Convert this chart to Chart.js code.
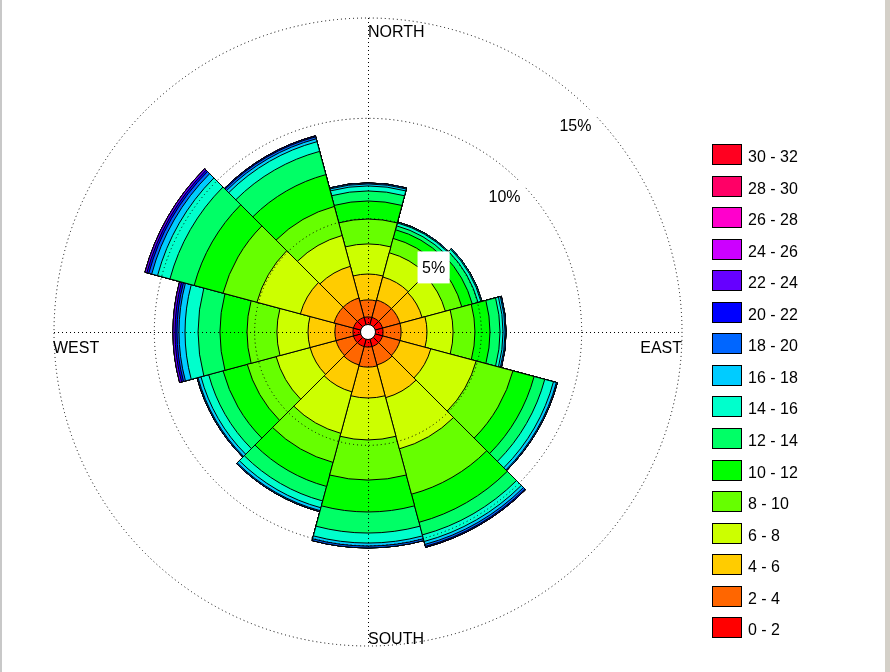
<!DOCTYPE html>
<html>
<head>
<meta charset="utf-8">
<script src="https://cdn.jsdelivr.net/npm/chart.js@4.4.1/dist/chart.umd.min.js"></script>
<style>
  html, body { margin: 0; padding: 0; background: #fff; }
  #wrap { position: relative; width: 890px; height: 672px; overflow: hidden;
          font-family: "Liberation Sans", Arial, sans-serif; }
  #rose { position: absolute; left: 0; top: 0; }
  .edge-l { position: absolute; left: 0; top: 0; width: 2px; height: 672px; background: #c8c8c8; }
  .edge-r { position: absolute; right: 0; top: 0; width: 5px; height: 672px; background: #d4d0c8; }
  .key { position: absolute; left: 712px; width: 30px; height: 21px; box-sizing: border-box; border: 1px solid #000; }
  .key-label { position: absolute; left: 748px; height: 21px; line-height: 21px; font-size: 16px; color: #000; white-space: pre; }
</style>
</head>
<body>
<div id="wrap">
  <canvas id="rose" width="890" height="672"></canvas>
  <div id="legend"></div>
  <div class="edge-l"></div>
  <div class="edge-r"></div>
</div>
<script>
// Direction sectors (30 deg wide, centred on 0, 30, ... 330)
const directions = ['N', '30', '60', 'E', '120', '150', 'S', '210', '240', 'W', '300', '330'];

// Wind speed classes
const speedBins = ['0 - 2', '2 - 4', '4 - 6', '6 - 8', '8 - 10', '10 - 12', '12 - 14', '14 - 16',
                   '16 - 18', '18 - 20', '20 - 22', '22 - 24', '24 - 26', '26 - 28', '28 - 30', '30 - 32'];
const binColors = ['#FF0000', '#FF6600', '#FFCC00', '#CCFF00', '#66FF00', '#00FF00', '#00FF66', '#00FFCC',
                   '#00CCFF', '#0066FF', '#0000FF', '#6600FF', '#CC00FF', '#FF00CC', '#FF0066', '#FF0020'];

// Frequency (%) of each speed class, one row per direction
const freq = [
  [0.10, 0.85, 1.29, 1.50, 1.24, 0.90, 0.50, 0.25, 0.10, 0.05],              // N
  [0.10, 0.90, 1.19, 1.25, 0.74, 0.45, 0.20, 0.15, 0.05],                    // 30
  [0.10, 0.90, 1.14, 1.20, 0.85, 0.54, 0.30, 0.15, 0.05],                    // 60
  [0.10, 0.90, 1.29, 1.30, 1.09, 0.75, 0.50, 0.15, 0.10, 0.05],              // E
  [0.10, 0.90, 1.59, 2.34, 1.90, 1.09, 0.55, 0.45, 0.15, 0.05],              // 120
  [0.10, 0.95, 1.69, 2.64, 2.34, 1.45, 0.65, 0.34, 0.15, 0.10, 0.05],        // 150
  [0.10, 1.00, 1.54, 2.09, 2.00, 1.59, 1.05, 0.50, 0.15, 0.09],              // S
  [0.10, 0.95, 1.39, 2.14, 1.50, 1.24, 0.75, 0.35, 0.15, 0.05],              // 210
  [0.10, 0.90, 1.34, 1.75, 1.49, 1.25, 0.74, 0.40, 0.15, 0.05],              // 240
  [0.10, 0.90, 1.34, 1.55, 1.49, 1.35, 1.09, 0.65, 0.30, 0.10, 0.10, 0.10],  // W
  [0.10, 1.00, 1.74, 2.24, 1.75, 1.49, 1.25, 0.64, 0.30, 0.15, 0.10, 0.10],  // 300
  [0.10, 1.00, 1.64, 1.59, 1.50, 1.64, 1.20, 0.50, 0.15, 0.10, 0.05]         // 330
];

// Percentage rings
const ringTicks = [5, 10, 15];
const ringLabels = ['5%', '10%', '15%'];
const compassLabels = ['NORTH', 'EAST', 'SOUTH', 'WEST'];

// cumulative totals per speed class -> one dataset per class, drawn outermost first
const datasets = speedBins.map((label, b) => ({
  label: label,
  data: freq.map(row => row.slice(0, b + 1).reduce((s, v) => s + v, 0)),
  backgroundColor: binColors[b],
  borderColor: '#000',
  borderWidth: 1
}));

const FONT = '16px "Liberation Sans", Arial, sans-serif';

const roseDecor = {
  id: 'roseDecor',
  afterDraw(chart) {
    const ctx = chart.ctx;
    const r = chart.scales.r;
    const cx = r.xCenter, cy = r.yCenter, R = r.drawingArea;
    ctx.save();

    // dotted N-S / E-W axes
    ctx.strokeStyle = '#000';
    ctx.lineWidth = 1;
    ctx.setLineDash([1, 3]);
    ctx.beginPath();
    ctx.moveTo(cx - R, cy + 0.5); ctx.lineTo(cx + R, cy + 0.5);
    ctx.moveTo(cx + 0.5, cy - R); ctx.lineTo(cx + 0.5, cy + R);
    ctx.stroke();
    ctx.setLineDash([]);

    // empty centre
    ctx.beginPath();
    ctx.arc(cx, cy, 7.5, 0, Math.PI * 2);
    ctx.fillStyle = '#fff';
    ctx.fill();
    ctx.stroke();

    // ring labels along 45 deg
    ctx.font = FONT;
    ctx.textAlign = 'center';
    ctx.textBaseline = 'middle';
    ringTicks.forEach((v, i) => {
      const d = r.getDistanceFromCenterForValue(v) - 22;
      const x = cx + d * Math.SQRT1_2, y = cy - d * Math.SQRT1_2;
      const w = ctx.measureText(ringLabels[i]).width + 9;
      ctx.fillStyle = '#fff';
      ctx.fillRect(x - w / 2 + 1, y - 16, w, 32);
      ctx.fillStyle = '#000';
      ctx.fillText(ringLabels[i], x + 1, y + 1);
    });

    // compass names
    ctx.textAlign = 'left';
    ctx.fillText(compassLabels[0], cx, cy - R + 15);
    ctx.fillText(compassLabels[2], cx, cy + R - 6);
    ctx.fillText(compassLabels[3], cx - R - 1, cy + 17);
    ctx.textAlign = 'right';
    ctx.fillText(compassLabels[1], cx + R, cy + 17);
    ctx.restore();
  }
};

new Chart(document.getElementById('rose'), {
  type: 'polarArea',
  data: { labels: directions, datasets: datasets },
  options: {
    responsive: false,
    animation: false,
    events: [],
    layout: { padding: { left: 54, right: 208, top: 18, bottom: 26 } },
    plugins: { legend: { display: false }, tooltip: { enabled: false } },
    scales: {
      r: {
        min: -0.65,
        max: 15,
        startAngle: -15,
        z: 1,
        afterBuildTicks: (scale) => {
          scale.ticks = ringTicks.map(v => ({ value: v }));
        },
        ticks: { display: false },
        pointLabels: { display: false },
        angleLines: { display: false },
        grid: { circular: true, color: '#000', lineWidth: 1, z: 1 },
        border: { dash: [1, 3] }
      }
    }
  },
  plugins: [roseDecor]
});

// legend, highest class on top
const legend = document.getElementById('legend');
for (let i = 0; i < speedBins.length; i++) {
  const b = speedBins.length - 1 - i;
  const top = 144 + i * 31.55;
  const box = document.createElement('div');
  box.className = 'key';
  box.style.top = top + 'px';
  box.style.background = binColors[b];
  legend.appendChild(box);
  const lab = document.createElement('div');
  lab.className = 'key-label';
  lab.style.top = (top + 2) + 'px';
  lab.textContent = speedBins[b];
  legend.appendChild(lab);
}
</script>
</body>
</html>
